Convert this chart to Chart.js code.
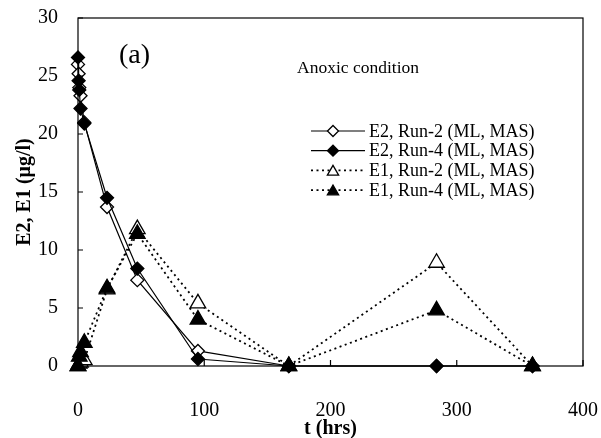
<!DOCTYPE html>
<html>
<head>
<meta charset="utf-8">
<script src="https://cdn.jsdelivr.net/npm/chart.js@4"></script>
<style>
html,body{margin:0;padding:0;background:#fff;}
</style>
</head>
<body>
<canvas id="ch" width="601" height="438"></canvas>
<script>
// times (hrs) and concentrations (ug/l)
const tE2 = [0, 0.5, 1, 2, 5, 23, 47, 95, 167, 284, 360];
const e2Run2 = [26.0, 25.2, 24.0, 23.3, 21.0, 13.7, 7.4, 1.3, 0, 0, 0];
const e2Run4 = [26.6, 24.6, 23.8, 22.2, 20.9, 14.5, 8.4, 0.6, 0, 0, 0];
const tE1 = [0, 1, 2, 5, 23, 47, 95, 167, 284, 360];
const e1Run2 = [0, 0.2, 0.3, 0.5, 6.6, 11.8, 5.4, 0, 8.9, 0];
const e1Run4 = [0, 0.8, 1.2, 2.0, 6.7, 11.4, 4.0, 0, 4.8, 0];
const seriesNames = ['E2, Run-2 (ML, MAS)', 'E2, Run-4 (ML, MAS)', 'E1, Run-2 (ML, MAS)', 'E1, Run-4 (ML, MAS)'];
const xTicks = [0, 100, 200, 300, 400];
const yTicks = [0, 5, 10, 15, 20, 25, 30];

const serif = "'Liberation Serif', 'Times New Roman', serif";

function pts(xs, ys) {
	return xs.map(function (x, i) { return {x: x, y: ys[i]}; });
}

function mark(ctx, style, filled, r, x, y) {
	ctx.save();
	ctx.beginPath();
	if (style === 'rectRot') {
		ctx.moveTo(x - r, y); ctx.lineTo(x, y - r); ctx.lineTo(x + r, y); ctx.lineTo(x, y + r);
	} else {
		ctx.moveTo(x, y - r);
		ctx.lineTo(x + Math.sin(2.094) * r, y - Math.cos(2.094) * r);
		ctx.lineTo(x + Math.sin(4.189) * r, y - Math.cos(4.189) * r);
	}
	ctx.closePath();
	ctx.setLineDash([]);
	ctx.fillStyle = filled ? '#000' : '#fff';
	ctx.fill();
	ctx.lineWidth = 1.3;
	ctx.strokeStyle = '#000';
	ctx.stroke();
	ctx.restore();
}

const extras = {
	id: 'extras',
	afterDraw: function (chart) {
		const ctx = chart.ctx;
		const a = chart.chartArea;
		const xs = chart.scales.x, ys = chart.scales.y;
		ctx.save();
		ctx.strokeStyle = '#000';
		ctx.lineWidth = 1.2;
		ctx.strokeRect(a.left, a.top, a.right - a.left, a.bottom - a.top);
		ctx.beginPath();
		yTicks.forEach(function (v) {
			const p = ys.getPixelForValue(v);
			ctx.moveTo(a.left, p); ctx.lineTo(a.left + 5, p);
		});
		xTicks.forEach(function (v) {
			const p = xs.getPixelForValue(v);
			ctx.moveTo(p, a.bottom); ctx.lineTo(p, a.bottom - 6);
		});
		ctx.stroke();

		ctx.fillStyle = '#000';
		ctx.textBaseline = 'middle';
		ctx.font = '28px ' + serif;
		ctx.fillText('(a)', 119, 56);
		ctx.font = '17.5px ' + serif;
		ctx.fillText('Anoxic condition', 297, 68);

		// legend
		ctx.font = '18px ' + serif;
		chart.data.datasets.forEach(function (ds, i) {
			const y = 131 + i * 19.7;
			ctx.beginPath();
			ctx.setLineDash(ds.borderDash || []);
			ctx.lineWidth = ds.borderWidth;
			ctx.moveTo(311, y); ctx.lineTo(365, y);
			ctx.stroke();
			mark(ctx, ds.pointStyle, ds.pointBackgroundColor === '#000', ds.pointStyle === 'rectRot' ? 5.5 : 6.5, 333, ds.pointStyle === 'rectRot' ? y : y + 1.5);
			ctx.setLineDash([]);
			ctx.fillText(ds.label, 369, y + 1);
		});
		ctx.restore();
	}
};

const cht = document.getElementById('ch').getContext('2d');
const chart = new Chart(cht, {
	type: 'line',
	data: {
		datasets: [
			{label: seriesNames[0], data: pts(tE2, e2Run2), borderColor: '#000', borderWidth: 1.2,
				pointStyle: 'rectRot', pointRadius: 6.5, pointBackgroundColor: '#fff', pointBorderColor: '#000', pointBorderWidth: 1.3, order: 4},
			{label: seriesNames[1], data: pts(tE2, e2Run4), borderColor: '#000', borderWidth: 1.2,
				pointStyle: 'rectRot', pointRadius: 6.5, pointBackgroundColor: '#000', pointBorderColor: '#000', pointBorderWidth: 1.3, order: 3},
			{label: seriesNames[2], data: pts(tE1, e1Run2), borderColor: '#000', borderWidth: 1.8, borderDash: [2, 3.5],
				pointStyle: 'triangle', pointRadius: 9, pointBackgroundColor: '#fff', pointBorderColor: '#000', pointBorderWidth: 1.3, order: 2},
			{label: seriesNames[3], data: pts(tE1, e1Run4), borderColor: '#000', borderWidth: 1.8, borderDash: [2, 3.5],
				pointStyle: 'triangle', pointRadius: 9, pointBackgroundColor: '#000', pointBorderColor: '#000', pointBorderWidth: 1.3, order: 1}
		]
	},
	options: {
		responsive: false,
		animation: false,
		clip: false,
		layout: {padding: {top: 18, right: 18, bottom: 0, left: 0}},
		plugins: {
			legend: {display: false},
			tooltip: {enabled: false}
		},
		elements: {line: {tension: 0, fill: false}},
		scales: {
			x: {
				type: 'linear',
				min: 0,
				max: 400,
				afterFit: function (s) { s.height = 72; s.paddingLeft = 0; s.paddingRight = 0; },
				afterBuildTicks: function (s) { s.ticks = xTicks.map(function (v) { return {value: v}; }); },
				grid: {display: false, drawTicks: false},
				border: {display: false},
				ticks: {color: '#000', padding: 33, maxRotation: 0, font: {family: serif, size: 20}},
				title: {display: true, text: 't (hrs)', color: '#000', padding: {top: 0, bottom: -3},
					font: {family: serif, size: 20, weight: 'bold'}}
			},
			y: {
				min: 0,
				max: 30,
				afterFit: function (s) { s.width = 78; s.paddingTop = 0; s.paddingBottom = 0; },
				afterBuildTicks: function (s) { s.ticks = yTicks.map(function (v) { return {value: v}; }); },
				grid: {display: false, drawTicks: false},
				border: {display: false},
				ticks: {color: '#000', padding: 20, font: {family: serif, size: 20}},
				title: {display: true, text: 'E2, E1 (\u03bcg/l)', color: '#000', padding: {top: 13, bottom: 0},
					font: {family: serif, size: 20, weight: 'bold'}}
			}
		}
	},
	plugins: [extras]
});
</script>
</body>
</html>
